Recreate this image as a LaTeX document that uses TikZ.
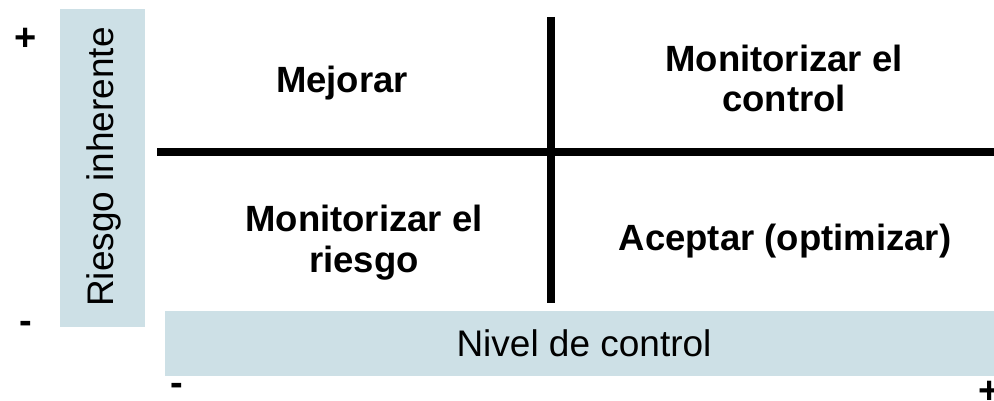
\documentclass[tikz,border=0pt]{standalone}
\usepackage{fontspec}
\setmainfont{Liberation Sans}
\definecolor{boxblue}{RGB}{205,224,230}
\begin{document}
\begin{tikzpicture}[x=1pt,y=-1pt,
  quad/.style={font=\fontsize{36.5}{40}\selectfont\bfseries, align=center, inner sep=0pt, anchor=base},
  axislabel/.style={font=\fontsize{37}{42}\selectfont, inner sep=0pt},
  sign/.style={font=\fontsize{38}{42}\selectfont\bfseries, inner sep=0pt, anchor=base},
  axisline/.style={line width=8pt, black}]
\useasboundingbox (0,0) rectangle (994,401);
% shaded label boxes
\fill[boxblue] (60,9) rectangle (145,327);
\fill[boxblue] (165,311) rectangle (994,376);
\node[axislabel, rotate=90] (riesgo) at (103.5,167) {Riesgo inherente};
\node[axislabel] (nivel) at (584,343.5) {Nivel de control};
% axes
\coordinate (vtop) at (551,17);
\coordinate (vbot) at (551,303);
\coordinate (hl) at (157,152);
\coordinate (hr) at (994,152);
\draw[axisline] (vtop) -- (vbot);
\draw[axisline] (hl) -- (hr);
% quadrant texts
\node[quad] (q1) at (342,93) {Mejorar};
\node[quad] (q2) at (784,112) {Monitorizar el\\control};
\node[quad] (q3) at (364,272) {Monitorizar el\\riesgo};
\node[quad] (q4) at (785,250) {Aceptar (optimizar)};
% signs
\node[sign] (yplus) at (25.5,50.5) {+};
\node[sign] (yminus) at (25.5,333) {-};
\node[sign] (xminus) at (177,395) {-};
\node[sign] (xplus) at (990,403) {+};
\end{tikzpicture}
\end{document}
